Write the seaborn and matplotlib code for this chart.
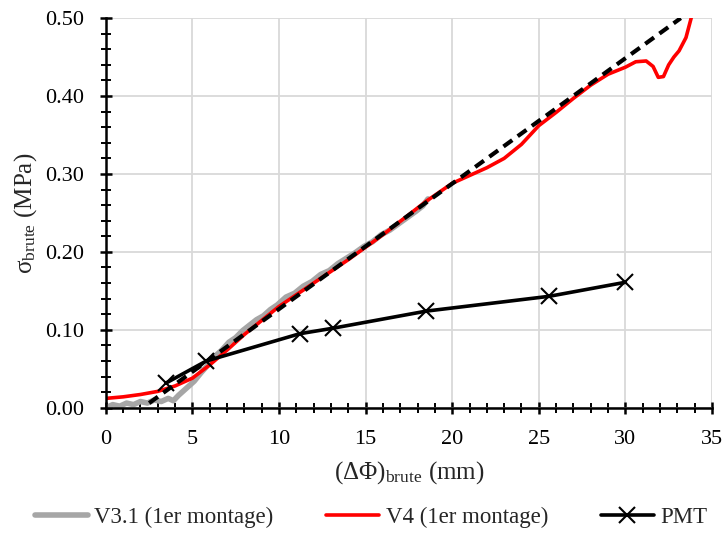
import numpy as np
import pandas as pd
import seaborn as sns
import matplotlib.pyplot as plt
from matplotlib.ticker import MultipleLocator, FormatStrFormatter

# V3.1 (1er montage) - noisy grey curve
v31_x = [0.0, 0.4, 0.8, 1.2, 1.6, 2.0, 2.4, 2.8, 3.2, 3.6, 3.9, 4.2, 4.5, 4.8, 5.1,
         5.5, 5.9, 6.3, 6.7, 7.1, 7.5, 7.9, 8.3, 8.7, 9.1, 9.5, 9.9, 10.4, 10.9,
         11.4, 11.9, 12.4, 12.9, 13.4, 13.9, 14.4, 14.9, 15.4, 15.9, 16.4, 16.9,
         17.4, 17.9, 18.3, 18.6]
v31_y = [0.000, 0.004, 0.002, 0.006, 0.004, 0.008, 0.006, 0.010, 0.008, 0.012,
         0.009, 0.016, 0.022, 0.028, 0.034, 0.045, 0.055, 0.066, 0.074, 0.084,
         0.090, 0.099, 0.106, 0.113, 0.118, 0.126, 0.132, 0.142, 0.147, 0.156,
         0.162, 0.171, 0.176, 0.185, 0.192, 0.199, 0.207, 0.213, 0.222, 0.228,
         0.236, 0.244, 0.252, 0.259, 0.268]

# V4 (1er montage) - red curve
v4_x = [0.0, 1.0, 2.0, 3.0, 4.0, 5.0, 6.0, 7.0, 8.0, 9.0, 10.0, 12.0, 14.0,
        16.0, 18.5, 20.0, 21.0, 22.0, 23.0, 24.0, 25.0, 26.0, 27.0, 28.0, 29.0,
        30.0, 30.6, 31.2, 31.6, 31.9, 32.2, 32.5, 32.8, 33.1, 33.5, 33.8]
v4_y = [0.012, 0.014, 0.017, 0.021, 0.028, 0.038, 0.055, 0.074, 0.094, 0.112,
        0.130, 0.160, 0.190, 0.222, 0.265, 0.288, 0.298, 0.308, 0.320, 0.338,
        0.362, 0.379, 0.397, 0.414, 0.428, 0.437, 0.444, 0.445, 0.438, 0.424,
        0.425, 0.440, 0.450, 0.458, 0.475, 0.500]

# PMT
pmt_x = [3.5, 5.8, 11.2, 13.1, 18.5, 25.6, 30.0]
pmt_y = [0.032, 0.060, 0.095, 0.102, 0.124, 0.143, 0.161]

# linear fit (dashed)
fit_x = [2.5, 33.2]
fit_y = [0.006, 0.500]

sns.set_style('white')
plt.rcParams['font.family'] = ['Liberation Serif', 'DejaVu Serif']
plt.rcParams['mathtext.fontset'] = 'custom'
plt.rcParams['mathtext.rm'] = 'Liberation Serif'
plt.rcParams['mathtext.it'] = 'Liberation Serif:italic'

fig = plt.figure(figsize=(7.25, 5.33), dpi=100)
ax = fig.add_axes([0.146, 0.235, 0.836, 0.731])

ax.grid(True, color='#d9d9d9', lw=1.3)
ax.set_axisbelow(True)

sns.lineplot(x=v31_x, y=v31_y, ax=ax, color='#a6a6a6', lw=4, sort=False,
             label='V3.1 (1er montage)')
sns.lineplot(x=v4_x, y=v4_y, ax=ax, color='#ff0000', lw=2.6, sort=False,
             label='V4 (1er montage)')
sns.lineplot(x=fit_x, y=fit_y, ax=ax, color='black', lw=3, sort=False,
             legend=False)
ax.lines[-1].set_dashes([2.6, 1.6])
sns.lineplot(x=pmt_x, y=pmt_y, ax=ax, color='black', lw=2.6, sort=False,
             marker='x', markersize=12, markeredgewidth=1.5,
             markeredgecolor='black', label='PMT')

ax.set_xlim(0, 35)
ax.set_ylim(0, 0.5)
ax.xaxis.set_major_locator(MultipleLocator(5))
ax.xaxis.set_minor_locator(MultipleLocator(1))
ax.yaxis.set_major_locator(MultipleLocator(0.1))
ax.yaxis.set_minor_locator(MultipleLocator(0.02))
ax.yaxis.set_major_formatter(FormatStrFormatter('%.2f'))

for s in ['top', 'right']:
    ax.spines[s].set_visible(False)
for s in ['left', 'bottom']:
    ax.spines[s].set_color('black')
    ax.spines[s].set_linewidth(1.8)

ax.tick_params(which='major', direction='inout', length=9, width=1.8,
               labelsize=16, colors='black', pad=11.5)
ax.tick_params(which='minor', direction='inout', length=7, width=1.4,
               colors='black')
ax.tick_params(axis='x', which='both', bottom=True)
ax.tick_params(axis='y', which='both', left=True)

ax.set_xlabel('(ΔΦ)$_{\\mathrm{brute}}$ (mm)', fontsize=18, labelpad=7)
ax.set_ylabel('σ$_{\\mathrm{brute}}$ (MPa)', fontsize=18, labelpad=4)

ax.legend(loc='center', bbox_to_anchor=(0.438, -0.282), ncol=3,
          frameon=False, fontsize=16.5, handlelength=2.3, columnspacing=2.3,
          handletextpad=0.3)

fig.savefig('out.png', dpi=100)
